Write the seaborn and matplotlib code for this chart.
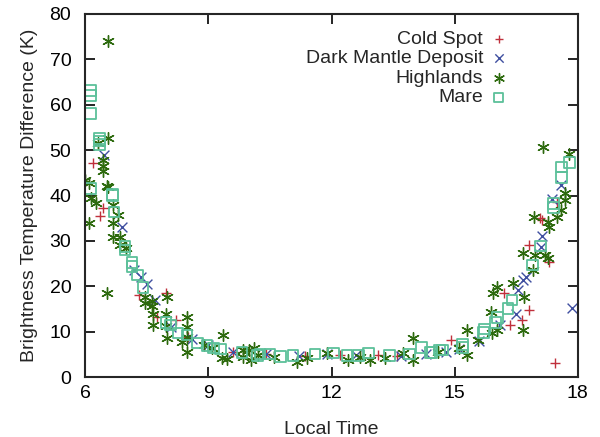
import numpy as np
import pandas as pd
import seaborn as sns
from matplotlib import pyplot as plt

# Values (local time in hours, temperature difference in K)
cold_t = [6.2, 6.37, 6.44, 7.3, 7.75, 7.97, 8.2, 8.5, 9.6, 10.4, 11.36, 12.2, 13.13, 13.6,
          14.9, 16.2, 16.35, 16.65, 16.8, 16.8, 17.07, 17.12, 17.3, 17.44, 17.5]
cold_v = [47.2, 35.5, 37.2, 18.0, 13.2, 18.5, 12.5, 8.8, 5.6, 5.0, 4.6, 4.8, 4.8, 4.7,
          8.1, 18.5, 11.5, 12.6, 14.8, 29.0, 35.0, 34.6, 25.3, 3.1, 38.5]

dark_t = [6.45, 6.9, 7.2, 7.35, 7.5, 7.7, 8.1, 8.6, 9.0, 9.6, 10.4, 11.2, 11.9, 12.6, 13.7,
          14.3, 14.8, 15.1, 15.6, 16.1, 16.5, 16.54, 16.66, 16.75, 17.1, 17.12, 17.37, 17.6, 17.86]
dark_v = [49.0, 33.0, 23.5, 22.0, 20.5, 17.0, 11.0, 8.5, 7.0, 5.5, 5.0, 4.6, 5.0, 4.8, 4.6,
          5.2, 5.6, 6.2, 8.0, 11.5, 14.0, 19.2, 21.4, 22.0, 28.7, 31.0, 39.2, 42.3, 15.2]

high_t = [6.56, 6.56, 6.3, 6.43, 6.43, 6.43, 6.1, 6.0, 6.54, 6.56, 6.15, 6.27, 6.1, 6.68,
          6.8, 6.68, 6.68, 6.85, 6.85, 6.54, 7.0, 7.46, 7.46, 7.63, 7.63, 7.66, 7.66, 8.0,
          7.97, 7.97, 8.0, 8.36, 8.48, 8.48, 8.48, 8.48, 8.9, 9.1, 9.36, 9.33, 9.45, 9.85,
          9.85, 10.1, 10.2, 10.0, 10.05, 10.6, 11.16, 11.4, 11.9, 12.4, 12.7, 12.95, 13.3,
          13.98, 13.98, 13.74, 14.6, 15.1, 15.3, 15.3, 15.57, 15.9, 16.03, 15.88, 15.93,
          16.03, 16.42, 16.66, 16.7, 16.66, 16.9, 16.93, 16.95, 17.2, 17.27, 17.27, 17.3,
          17.5, 17.6, 17.7, 17.7, 17.78, 17.15]
high_v = [74.0, 52.6, 51.5, 47.8, 46.5, 45.4, 42.8, 43.4, 42.0, 41.9, 39.4, 38.3, 33.9, 33.9,
          35.7, 37.9, 30.9, 30.9, 29.0, 18.5, 28.5, 17.6, 16.3, 16.7, 15.6, 13.9, 11.5, 17.6,
          14.0, 11.2, 8.6, 7.7, 13.2, 11.0, 8.8, 5.5, 7.0, 6.5, 9.3, 4.2, 4.0, 6.0,
          4.5, 6.4, 4.8, 6.0, 3.7, 4.5, 3.3, 4.2, 5.3, 3.7, 4.5, 3.7, 4.3,
          8.6, 3.7, 5.3, 5.5, 6.5, 10.4, 4.8, 8.2, 9.7, 10.4, 14.3, 18.5,
          19.8, 20.7, 10.4, 17.6, 27.3, 23.6, 35.3, 26.9, 26.9, 26.2, 34.2, 33.0,
          35.3, 36.8, 39.0, 40.5, 49.1, 50.7]

mare_t = [6.12, 6.12, 6.12, 6.12, 6.34, 6.34, 6.34, 6.66, 6.66, 6.7, 6.97, 6.97, 7.14, 7.14,
          7.27, 7.41, 7.97, 8.07, 8.26, 8.48, 8.73, 8.97, 9.12, 9.3, 9.82, 10.2, 10.26, 10.5,
          10.75, 11.06, 11.6, 12.04, 12.38, 12.65, 12.9, 13.42, 13.9, 14.2, 14.4, 14.45,
          14.64, 14.7, 15.2, 15.2, 15.7, 15.72, 16.0, 16.05, 16.3, 16.4, 16.9, 17.1, 17.4,
          17.4, 17.6, 17.6, 17.8]
mare_v = [63.2, 62.1, 58.1, 41.6, 52.6, 52.0, 51.3, 40.3, 40.0, 36.4, 28.7, 28.0, 25.3, 24.3,
          22.5, 19.8, 12.1, 11.5, 9.7, 9.3, 7.5, 7.0, 6.4, 6.2, 5.5, 4.8, 5.1, 5.1,
          4.6, 4.8, 5.1, 5.3, 4.8, 4.8, 5.3, 4.8, 5.1, 6.6, 5.5, 5.5,
          6.0, 6.0, 6.6, 7.2, 9.9, 10.6, 12.1, 13.2, 15.2, 17.0, 24.7, 28.9, 38.3,
          37.4, 44.0, 46.3, 47.2]

sns.set_style("ticks")
plt.rcParams['font.family'] = ['Liberation Sans', 'DejaVu Sans']

fig, ax = plt.subplots(figsize=(6, 4.37), dpi=100)
fig.subplots_adjust(left=0.142, right=0.963, top=0.968, bottom=0.137)

asterisk = (6, 2, 0)
sns.scatterplot(x=cold_t, y=cold_v, ax=ax, marker='+', color='#c0303c', s=55,
                linewidth=1.0, label='Cold Spot')
sns.scatterplot(x=dark_t, y=dark_v, ax=ax, marker='x', color='#3f4fa0', s=50,
                linewidth=1.0, label='Dark Mantle Deposit')
sns.scatterplot(x=high_t, y=high_v, ax=ax, marker=asterisk, color='#2d6a0e', s=70,
                linewidth=1.0, label='Highlands')
sns.scatterplot(x=mare_t, y=mare_v, ax=ax, marker='s', facecolors='none',
                edgecolor='#5cc09a', s=60, linewidth=1.3, label='Mare')

ax.set_xlim(6, 18)
ax.set_ylim(0, 80)
ax.set_xticks([6, 9, 12, 15, 18])
ax.set_yticks(np.arange(0, 81, 10))
ax.tick_params(direction='in', length=7, width=1.2, top=True, right=True,
               labelsize=14, colors='black')
ax.tick_params(axis='x', pad=6)
ax.tick_params(axis='y', pad=10)
for sp in ax.spines.values():
    sp.set_visible(True)
    sp.set_linewidth(1.5)
ax.set_xlabel('Local Time', fontsize=14, labelpad=13)
ax.set_ylabel('Brightness Temperature Difference (K)', fontsize=14, labelpad=8)

leg = ax.legend(loc='upper right', bbox_to_anchor=(0.875, 0.977), frameon=False,
                markerfirst=False, fontsize=14, handletextpad=0.3, handlelength=1.0,
                labelspacing=0.1, borderaxespad=0.0, markerscale=0.85)

fig.savefig('out.png', dpi=100)
